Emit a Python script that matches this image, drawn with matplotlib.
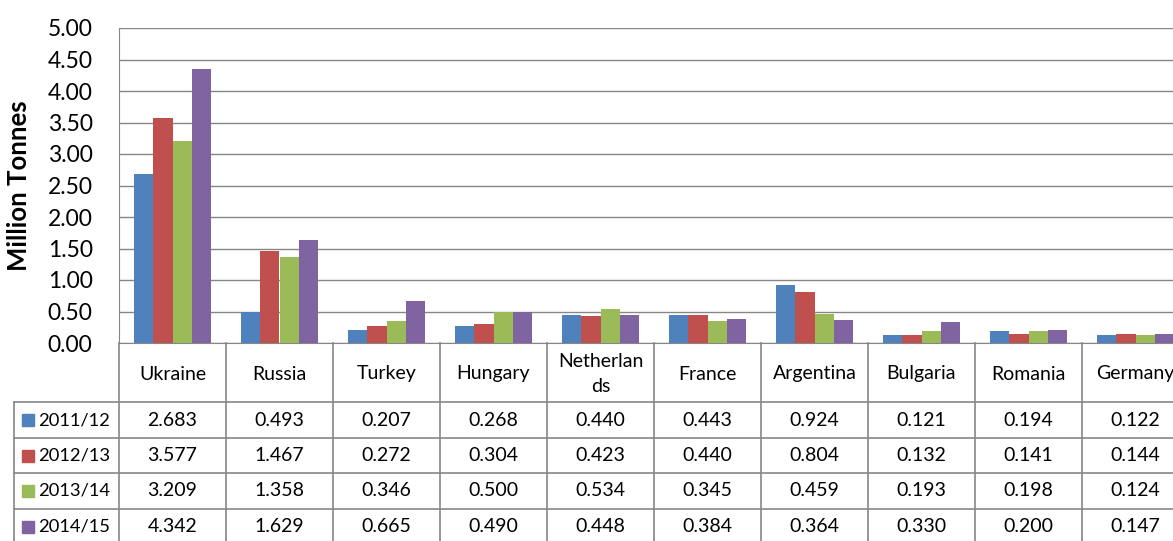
import matplotlib
matplotlib.use("Agg")
import matplotlib.pyplot as plt
import matplotlib.transforms as mtransforms
import numpy as np

plt.rcParams['font.family'] = ['Lato', 'DejaVu Sans']

countries = ['Ukraine', 'Russia', 'Turkey', 'Hungary', 'Netherlan\nds',
             'France', 'Argentina', 'Bulgaria', 'Romania', 'Germany']
seasons = ['2011/12', '2012/13', '2013/14', '2014/15']
v2011 = [2.683, 0.493, 0.207, 0.268, 0.440, 0.443, 0.924, 0.121, 0.194, 0.122]
v2012 = [3.577, 1.467, 0.272, 0.304, 0.423, 0.440, 0.804, 0.132, 0.141, 0.144]
v2013 = [3.209, 1.358, 0.346, 0.500, 0.534, 0.345, 0.459, 0.193, 0.198, 0.124]
v2014 = [4.342, 1.629, 0.665, 0.490, 0.448, 0.384, 0.364, 0.330, 0.200, 0.147]
series = [v2011, v2012, v2013, v2014]
colors = ['#4F81BD', '#C0504D', '#9BBB59', '#8064A2']

W, H = 1173, 541
fig = plt.figure(figsize=(W / 100, H / 100), dpi=100)
# plot area: x 119..1189 px (right part cut off), y 28..343 px
ax = fig.add_axes([119 / W, 1 - 343 / H, (1189 - 119) / W, (343 - 28) / H])

x = np.arange(len(countries))
bw = 1 / 5.5
for k, vals in enumerate(series):
    ax.bar(x + (k - 1.5) * bw, vals, bw, color=colors[k], zorder=3)

ax.set_xlim(-0.5, len(countries) - 0.5)
ax.set_ylim(0, 5)
ax.set_yticks(np.arange(0, 5.01, 0.5))
ax.set_yticklabels(['%.2f' % t for t in np.arange(0, 5.01, 0.5)], fontsize=16.5)
ax.set_xticks([])
ax.tick_params(axis='y', length=0, pad=19)
ax.yaxis.grid(True, color='#868686', linewidth=1, zorder=0)
for s in ['top', 'right']:
    ax.spines[s].set_visible(False)
ax.spines['left'].set_color('#868686')
ax.spines['bottom'].set_color('#868686')
ax.set_ylabel('Million Tonnes', fontsize=18.5, fontweight='bold', labelpad=12)

# data table below the plot
tr = mtransforms.blended_transform_factory(ax.transData, ax.transAxes)
ph = 343 - 28
def ya(py):
    return (343 - py) / ph

line_kw = dict(color='#868686', linewidth=1.2, transform=tr, clip_on=False)
row_y = [343, 402, 438, 473, 509, 545]
x_leg = (14 - 119) / 107 - 0.5
# vertical lines
for i in range(len(countries) + 1):
    ax.plot([i - 0.5, i - 0.5], [ya(343), ya(545)], **line_kw)
ax.plot([x_leg, x_leg], [ya(402), ya(545)], **line_kw)
# horizontal lines
for py in row_y[1:]:
    ax.plot([x_leg, len(countries) - 0.5], [ya(py), ya(py)], **line_kw)

for i, c in enumerate(countries):
    ax.text(i, ya(374), c, transform=tr, ha='center', va='center',
            fontsize=14, linespacing=1.55)

for k, vals in enumerate(series):
    yc = ya((row_y[k + 1] + row_y[k + 2]) / 2)
    for i, v in enumerate(vals):
        ax.text(i, yc, '%.3f' % v, transform=tr, ha='center', va='center',
                fontsize=14)
    mx = (28 - 119) / 107 - 0.5
    ax.plot([mx], [yc], marker='s', markersize=8.5, color=colors[k],
            transform=tr, clip_on=False)
    ax.text((38 - 119) / 107 - 0.5, yc, seasons[k], transform=tr,
            ha='left', va='center', fontsize=13.2)

fig.savefig('out.png', dpi=100)
